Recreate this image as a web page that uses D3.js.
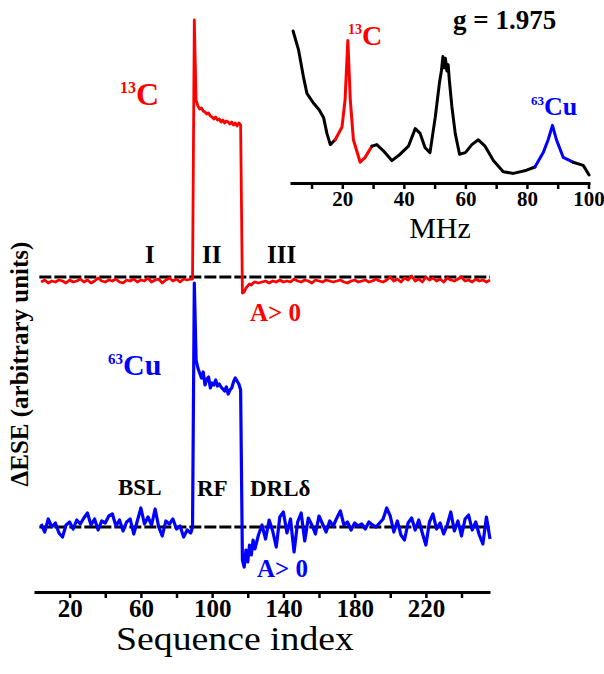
<!DOCTYPE html>
<html>
<head>
<meta charset="utf-8">
<script src="https://cdn.jsdelivr.net/npm/d3@7"></script>
<style>
  body { margin: 0; background: #fff; }
  text { font-family: "Liberation Serif", "Times New Roman", serif; }
</style>
</head>
<body>
<div id="chart"></div>
<script>
const WIDTH = 604
const HEIGHT = 674

// sequence index -> ΔESE (arbitrary units), measured from each trace's own baseline
const carbon13 = [
  [4,-0.05],[6,-0.03],[8,-0.06],[10,-0.04],[12,-0.05],[14,-0.03],[16,-0.04],[18,-0.06],[20,-0.03],[22,-0.05],
  [24,-0.04],[26,-0.02],[28,-0.05],[30,-0.03],[32,-0.06],[34,-0.04],[36,-0.01],[38,-0.04],[40,-0.05],[42,-0.03],
  [44,-0.04],[46,-0.02],[48,-0.05],[50,-0.06],[52,-0.03],[54,-0.04],[56,-0.02],[58,-0.05],[60,-0.03],[62,-0.04],
  [64,-0.01],[66,-0.05],[68,-0.03],[70,-0.02],[72,-0.06],[74,-0.03],[76,-0.01],[78,-0.04],[80,-0.02],[82,-0.05],
  [84,-0.02],[86,-0.03],[88,-0.02],[89,-0.02],
  [90,2.57],[91,1.77],[92,1.71],[93,1.68],[94,1.69],[95,1.66],[96,1.65],[97,1.63],[98,1.64],[99,1.61],
  [100,1.60],[101,1.58],[102,1.60],[103,1.57],[104,1.58],[105,1.55],[106,1.57],[107,1.54],[108,1.56],[109,1.55],
  [110,1.53],[111,1.55],[112,1.52],[113,1.54],[114,1.51],[115,1.54],[116,1.52],
  [117,-0.16],[118,-0.15],[119,-0.11],[120,-0.09],[121,-0.07],[122,-0.08],[123,-0.06],[124,-0.05],
  [126,-0.06],[128,-0.05],[130,-0.04],[132,-0.06],[134,-0.04],[136,-0.05],[138,-0.03],[140,-0.05],[142,-0.04],[144,-0.05],
  [146,-0.02],[148,-0.04],[150,-0.05],[152,-0.03],[154,-0.04],[156,-0.06],[158,-0.03],[160,-0.04],[162,-0.05],[164,-0.03],
  [166,-0.04],[168,-0.05],[170,-0.04],[172,-0.03],[174,-0.05],[176,-0.06],[178,-0.04],[180,-0.03],[182,-0.05],[184,-0.04],
  [186,-0.03],[188,-0.05],[190,-0.04],[192,-0.02],[194,-0.04],[196,-0.05],[198,-0.03],[200,0.00],[202,-0.04],[204,-0.02],
  [206,-0.05],[208,-0.01],[210,-0.03],[212,0.01],[214,-0.04],[216,-0.02],[218,-0.05],[220,0.00],[222,-0.03],[224,-0.01],
  [226,-0.04],[228,-0.02],[230,-0.05],[232,-0.01],[234,-0.03],[236,-0.04],[238,-0.02],[240,0.00],[242,-0.04],[244,-0.03],
  [246,-0.05],[248,-0.02],[250,-0.04],[252,-0.03],[254,-0.05],[256,-0.03]
]

const copper63 = [
  [4,0.03],[6,-0.05],[8,0.08],[10,0.00],[12,0.04],[14,-0.06],[16,-0.10],[18,0.02],[20,0.05],[22,-0.02],
  [24,0.07],[26,0.03],[28,0.09],[30,0.14],[32,0.02],[34,0.08],[36,-0.03],[38,0.06],[40,0.04],[42,0.11],
  [44,0.13],[46,0.01],[48,0.07],[50,-0.04],[52,0.05],[54,0.08],[56,-0.07],[58,0.06],[60,0.19],[62,0.03],
  [64,0.10],[66,0.02],[68,0.18],[70,0.00],[72,-0.09],[74,0.06],[76,0.03],[78,0.08],[80,-0.02],[82,0.01],
  [84,-0.10],[86,-0.03],[88,-0.06],[89,0.00],
  [90,2.44],[91,1.67],[92,1.59],[93,1.54],[94,1.49],[95,1.55],[96,1.42],[97,1.48],[98,1.50],[99,1.39],
  [100,1.44],[101,1.42],[102,1.47],[103,1.41],[104,1.43],[105,1.40],[106,1.38],[107,1.36],[108,1.40],[109,1.33],
  [110,1.37],[111,1.39],[112,1.45],[113,1.49],[114,1.46],[115,1.43],[116,1.37],
  [117,-0.33],[118,-0.40],[119,-0.23],[120,-0.35],[121,-0.18],[122,-0.28],[123,-0.13],[124,-0.22],
  [126,-0.08],[128,0.02],[130,-0.12],[132,0.07],[134,-0.04],[136,-0.20],[138,0.10],[140,0.15],[142,-0.06],[144,0.08],
  [146,-0.25],[148,0.05],[150,0.14],[152,-0.14],[154,0.09],[156,0.02],[158,-0.07],[160,0.11],[162,0.03],[164,-0.05],
  [166,0.06],[168,0.01],[170,0.09],[172,0.16],[174,0.02],[176,0.05],[178,-0.03],[180,0.04],[182,0.01],[184,0.03],
  [186,-0.02],[188,0.05],[190,0.02],[192,0.00],[194,0.04],[196,0.08],[198,0.19],[200,0.11],[202,-0.05],[204,0.06],
  [206,-0.08],[208,-0.13],[210,0.04],[212,0.09],[214,-0.03],[216,0.07],[218,-0.06],[220,-0.18],[222,0.05],[224,0.13],
  [226,-0.02],[228,0.04],[230,-0.07],[232,0.02],[234,0.15],[236,-0.04],[238,0.06],[240,-0.09],[242,0.08],[244,0.12],
  [246,-0.03],[248,0.05],[250,-0.08],[252,-0.17],[254,0.10],[256,-0.12]
]

const carbonOffset = 2.5
const copperOffset = 0
const seqTicks = [20, 40, 60, 80, 100, 120, 140, 160, 180, 200, 220, 240]
const seqLabels = [20, 60, 100, 140, 180, 220]

// ENDOR spectrum in the inset
const endorMHz = [4.0, 5.8, 7.4, 8.5, 10.6, 12.4, 13.9, 15.0, 16.1, 17.7, 19.9, 20.9, 21.8, 22.6, 23.6, 25.8, 27.4, 29.6,
  31.2, 33.4, 36.1, 38.8, 41.5, 43.7, 45.3, 46.9, 48.5, 50.2, 51.6, 52.2, 52.7, 53.1, 53.5, 54.0, 54.4, 54.8, 55.6, 56.7,
  58.1, 60.0, 62.1, 64.2, 66.4, 69.1, 72.3, 75.6, 79.9, 82.6, 85.3, 86.9, 88.3, 89.6, 91.8, 95.0, 98.3, 100.2]
const endorVal = [0.95, 0.83, 0.66, 0.56, 0.50, 0.46, 0.41, 0.31, 0.24, 0.27, 0.35, 0.52, 0.89, 0.52, 0.27, 0.13, 0.16, 0.23,
  0.24, 0.20, 0.14, 0.18, 0.23, 0.34, 0.31, 0.22, 0.19, 0.41, 0.63, 0.70, 0.79, 0.72, 0.78, 0.70, 0.74, 0.64, 0.48, 0.31,
  0.18, 0.19, 0.24, 0.27, 0.23, 0.14, 0.07, 0.06, 0.08, 0.10, 0.19, 0.27, 0.36, 0.27, 0.16, 0.13, 0.11, 0.05]
const carbonBand = [17.7, 29.6]
const copperBand = [82.6, 95.0]
const mhzTicks = [10, 20, 30, 40, 50, 60, 70, 80, 90, 100]
const mhzLabels = [20, 40, 60, 80, 100]

const RED = "#ff0000"
const BLUE = "#0000ff"

const svg = d3.select("#chart").append("svg")
  .attr("width", WIDTH)
  .attr("height", HEIGHT)

// main panel
const x = d3.scaleLinear().domain([0, 256]).range([34, 490])
const y = d3.scaleLinear().domain([0, 5]).range([527, 27])

const line = (offset) => d3.line()
  .x(d => x(d[0]))
  .y(d => y(d[1] + offset))

// dashed zero lines
;[carbonOffset, copperOffset].forEach(off => {
  svg.append("line")
    .attr("x1", x(3)).attr("x2", x(256))
    .attr("y1", y(off)).attr("y2", y(off))
    .attr("stroke", "#000")
    .attr("stroke-width", 3)
    .attr("stroke-dasharray", "12,3")
})

svg.append("path")
  .datum(carbon13)
  .attr("d", line(carbonOffset))
  .attr("fill", "none")
  .attr("stroke", RED)
  .attr("stroke-width", 2.8)
  .attr("stroke-linejoin", "round")

svg.append("path")
  .datum(copper63)
  .attr("d", line(copperOffset))
  .attr("fill", "none")
  .attr("stroke", BLUE)
  .attr("stroke-width", 3.2)
  .attr("stroke-linejoin", "round")

const xAxis = d3.axisBottom(x)
  .tickValues(seqTicks)
  .tickSize(6)
  .tickSizeOuter(0)
  .tickFormat(d => seqLabels.includes(d) ? d : "")

const gx = svg.append("g")
  .attr("transform", "translate(0,592)")
  .call(xAxis)
gx.select(".domain").attr("stroke-width", 3)
gx.selectAll(".tick line").attr("stroke-width", 2.5)
gx.selectAll(".tick text")
  .attr("y", 7)
  .attr("font-family", "Liberation Serif")
  .attr("font-weight", "bold")
  .attr("font-size", 25)
  .attr("fill", "#000")

svg.append("text")
  .attr("x", 235).attr("y", 650)
  .attr("text-anchor", "middle")
  .attr("font-size", 34)
  .attr("textLength", 238)
  .attr("lengthAdjust", "spacingAndGlyphs")
  .text("Sequence index")

svg.append("text")
  .attr("transform", "translate(28,364) rotate(-90)")
  .attr("text-anchor", "middle")
  .attr("font-size", 25)
  .attr("font-weight", "bold")
  .text("ΔESE (arbitrary units)")

// labels in the main panel
const label = (px, py, txt, color, size) => svg.append("text")
  .attr("x", px).attr("y", py)
  .attr("font-size", size)
  .attr("font-weight", "bold")
  .attr("fill", color)
  .text(txt)

const isotope = (px, py, mass, sym, color, size) => {
  const t = svg.append("text")
    .attr("x", px).attr("y", py)
    .attr("font-weight", "bold")
    .attr("fill", color)
  t.append("tspan").attr("font-size", size * 0.5).attr("dy", -size * 0.38).text(mass)
  t.append("tspan").attr("font-size", size).attr("dy", size * 0.38).text(sym)
}

isotope(120, 105, "13", "C", RED, 32)
isotope(108, 375, "63", "Cu", BLUE, 30)

label(145, 263, "I", "#000", 25)
label(202, 263, "II", "#000", 25)
label(267, 263, "III", "#000", 25)
label(250, 321, "A> 0", RED, 25)

label(118, 495, "BSL", "#000", 23)
label(197, 496, "RF", "#000", 23)
label(250, 496, "DRLδ", "#000", 23)
label(257, 577, "A> 0", BLUE, 25)

// inset spectrum
const xi = d3.scaleLinear().domain([3, 100.5]).range([290, 590])
const yi = d3.scaleLinear().domain([0, 1]).range([183, 23])

const endor = endorMHz.map((f, i) => [f, endorVal[i]])
const insetLine = d3.line().x(d => xi(d[0])).y(d => yi(d[1]))

const segments = [
  {pts: endor.filter(d => d[0] <= carbonBand[0]), color: "#000"},
  {pts: endor.filter(d => d[0] >= carbonBand[0] && d[0] <= carbonBand[1]), color: RED},
  {pts: endor.filter(d => d[0] >= carbonBand[1] && d[0] <= copperBand[0]), color: "#000"},
  {pts: endor.filter(d => d[0] >= copperBand[0] && d[0] <= copperBand[1]), color: BLUE},
  {pts: endor.filter(d => d[0] >= copperBand[1]), color: "#000"}
]
segments.forEach(s => {
  svg.append("path")
    .datum(s.pts)
    .attr("d", insetLine)
    .attr("fill", "none")
    .attr("stroke", s.color)
    .attr("stroke-width", 3)
    .attr("stroke-linejoin", "round")
    .attr("stroke-linecap", "round")
})

const xiAxis = d3.axisBottom(xi)
  .tickValues(mhzTicks)
  .tickSize(6)
  .tickSizeOuter(0)
  .tickFormat(d => mhzLabels.includes(d) ? d : "")

const gxi = svg.append("g")
  .attr("transform", "translate(0,183)")
  .call(xiAxis)
gxi.select(".domain").attr("stroke-width", 3)
gxi.selectAll(".tick line").attr("stroke-width", 2.5)
gxi.selectAll(".tick text")
  .attr("y", 8)
  .attr("font-family", "Liberation Serif")
  .attr("font-weight", "bold")
  .attr("font-size", 21)
  .attr("fill", "#000")

svg.append("text")
  .attr("x", 440).attr("y", 238)
  .attr("text-anchor", "middle")
  .attr("font-size", 30)
  .text("MHz")

label(453, 29, "g = 1.975", "#000", 27)
isotope(348, 45, "13", "C", RED, 28)
isotope(531, 115, "63", "Cu", BLUE, 26)
</script>
</body>
</html>
